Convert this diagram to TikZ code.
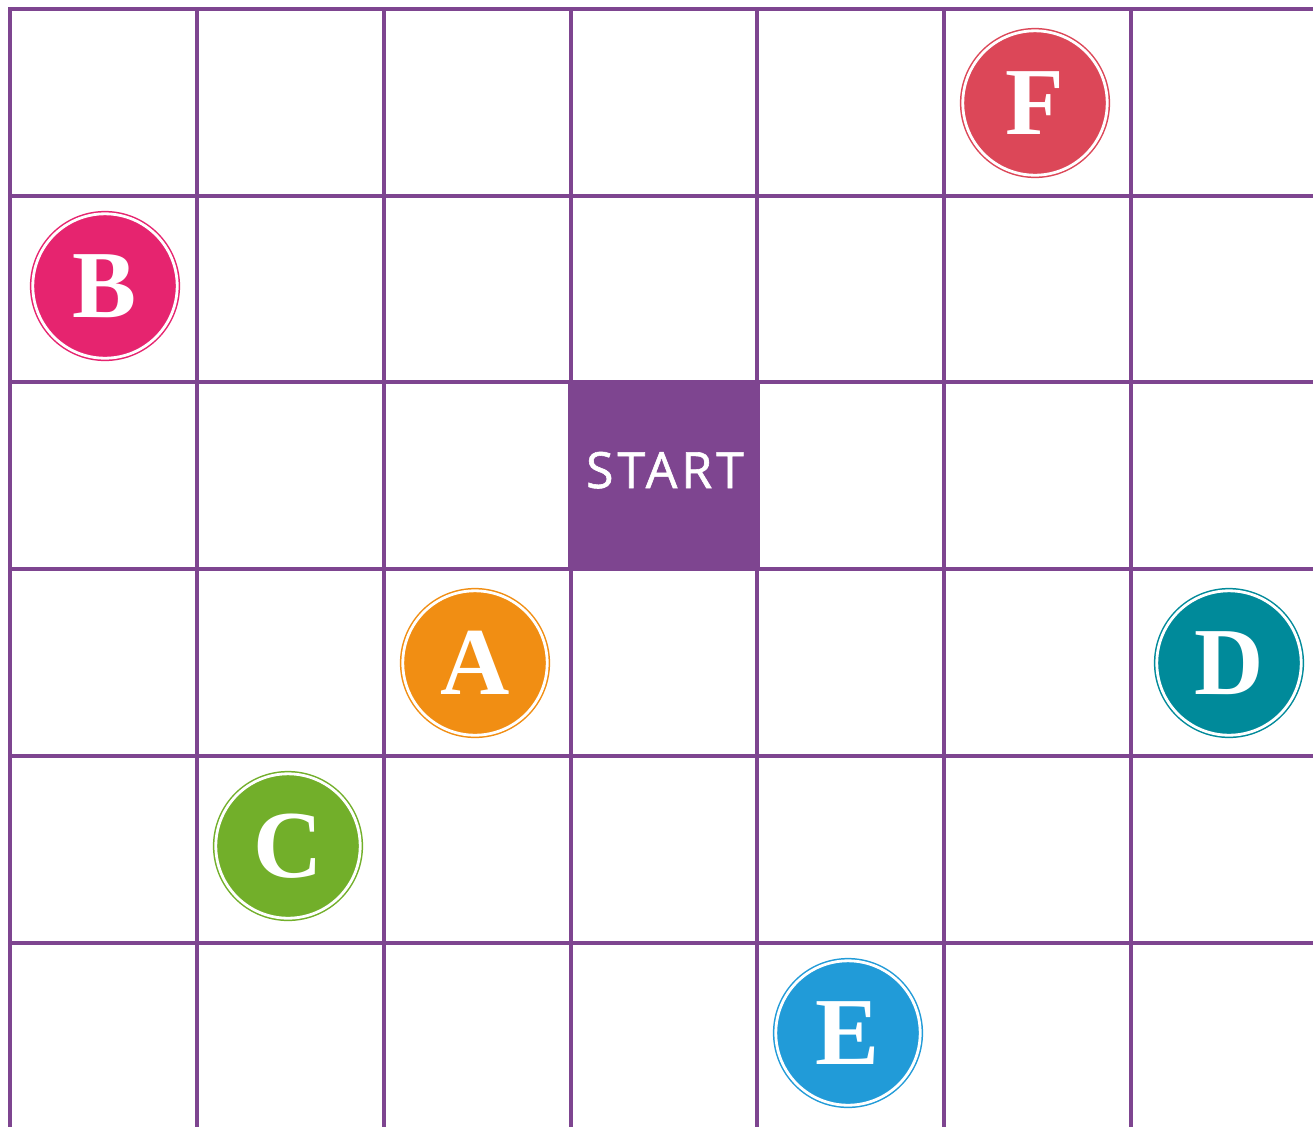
\documentclass[tikz,border=0pt]{standalone}
\usepackage{fontspec}
\setmainfont{Liberation Serif}
\newfontfamily\startfont[LetterSpace=8,FakeBold=1.2]{Open Sans}
\definecolor{gridpurple}{HTML}{7E4590}
\definecolor{cF}{HTML}{DC4758}
\definecolor{cB}{HTML}{E6246F}
\definecolor{cA}{HTML}{F18E13}
\definecolor{cD}{HTML}{008A9A}
\definecolor{cC}{HTML}{72AF2A}
\definecolor{cE}{HTML}{219BD8}
\tikzset{
  gridline/.style={draw=gridpurple, line width=2pt},
  token/.style={circle, fill=#1, draw=#1, double=white, double distance=1.4pt,
    line width=0.75pt, minimum size=72.2pt, inner sep=0pt, text=white,
    font=\bfseries\fontsize{48}{48}\selectfont},
  startbox/.style={rectangle, fill=gridpurple, minimum width=96pt, minimum height=95.5pt,
    inner sep=0pt, text=white},
}
\begin{document}
\begin{tikzpicture}[x=0.5pt, y=-0.5pt]
\useasboundingbox[fill=white] (0,0) rectangle (1313,1126);
\begin{scope}
\clip (0,0) rectangle (1313,1126);
\foreach \gx in {10,196.8,383.7,570.5,757.3,944.2,1131} {
  \draw[gridline] (\gx,7) -- (\gx,1130);
}
\foreach \gy in {9,195.7,382.4,569.1,755.8,942.5} {
  \draw[gridline] (8,\gy) -- (1320,\gy);
}
\end{scope}
\node[startbox] (start) at (664,475.5) {};
\node[text=white, font=\startfont\fontsize{25}{25}\selectfont, anchor=base] (starttext) at (665,488) {START};
\node[token=cF] (F) at (1035,103) {F};
\node[token=cB] (B) at (105,286) {B};
\node[token=cA] (A) at (475,663) {A};
\node[token=cD] (D) at (1229,663) {D};
\node[token=cC] (C) at (288,846) {C};
\node[token=cE] (E) at (848,1033) {E};
\end{tikzpicture}
\end{document}
